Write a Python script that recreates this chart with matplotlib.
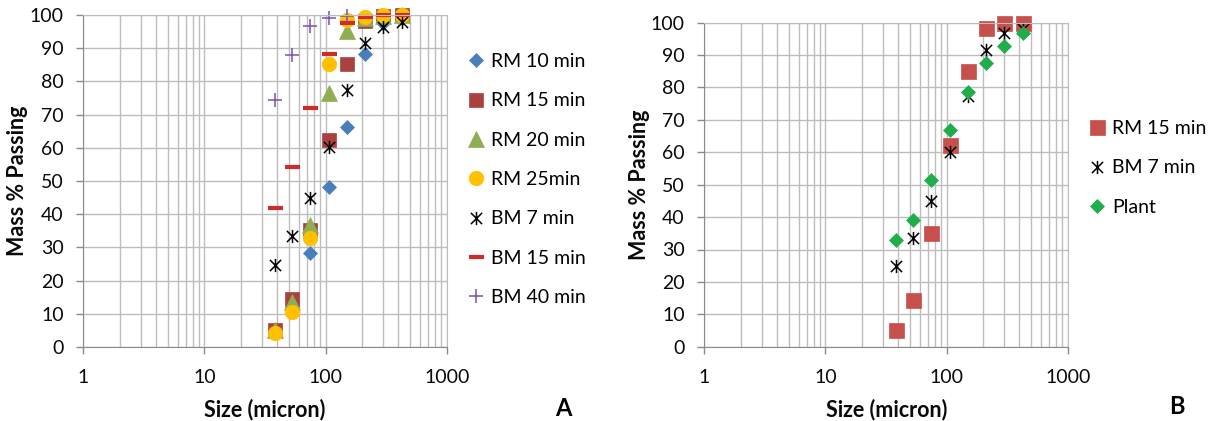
import numpy as np
import matplotlib
matplotlib.use('Agg')
import matplotlib.pyplot as plt
from matplotlib.path import Path
from matplotlib.ticker import LogLocator, FixedLocator, NullFormatter

plt.rcParams['font.family'] = ['Lato', 'DejaVu Sans']

# sieve sizes (micron)
size = [38, 53, 75, 106, 150, 212, 300, 425]

# panel A series (mass % passing)
rm10 = [5, 12, 28.3, 48.2, 66.2, 88.2, 97.5, 99]
rm15 = [5.2, 14.5, 35.2, 62.2, 85.1, 98.2, 99.8, 100]
rm20 = [5, 13.5, 36.8, 76.6, 95.3, 99, 99.8, 100]
rm25 = [4.1, 10.6, 32.7, 85.2, 98.5, 99.5, 100, 100]
bm7 = [24.7, 33.3, 44.9, 60.2, 77.3, 91.6, 96.5, 97.8]
bm15 = [41.8, 54.2, 72.1, 88.4, 97.7, 99.3, 100, 100]
bm40 = [74.3, 88.1, 96.8, 99.1, 99.7]

# panel B series
rm15_b = [5.2, 14.3, 35.2, 62.2, 85.1, 98.3, 99.8, 100]
bm7_b = [24.8, 33.5, 45.1, 60.2, 77.5, 91.7, 96.7, 98.2]
plant = [32.8, 39.2, 51.4, 66.8, 78.6, 87.5, 92.9, 96.7]

grid_c = '#bdbdbd'
spine_c = '#8a8a8a'

# excel style asterisk: X with a vertical bar
star = Path([(0, -1), (0, 1), (-0.85, -0.85), (0.85, 0.85), (-0.85, 0.85), (0.85, -0.85)],
            [Path.MOVETO, Path.LINETO, Path.MOVETO, Path.LINETO, Path.MOVETO, Path.LINETO])

fig = plt.figure(figsize=(12.12, 4.21), dpi=100)
W, H = 1212, 421

def make_axes(x0, x1, y0, y1):
    ax = fig.add_axes([x0 / W, 1 - y1 / H, (x1 - x0) / W, (y1 - y0) / H])
    ax.set_xscale('log')
    ax.set_xlim(1, 1000)
    ax.set_ylim(0, 100)
    ax.xaxis.set_major_locator(FixedLocator([1, 10, 100, 1000]))
    ax.xaxis.set_major_formatter(plt.FuncFormatter(lambda v, p: '%d' % v))
    ax.xaxis.set_minor_locator(LogLocator(base=10, subs=np.arange(2, 10)))
    ax.xaxis.set_minor_formatter(NullFormatter())
    ax.set_yticks(np.arange(0, 101, 10))
    ax.grid(True, which='both', axis='x', color=grid_c, lw=1)
    ax.grid(True, which='major', axis='y', color=grid_c, lw=1)
    ax.set_axisbelow(True)
    ax.tick_params(axis='x', which='major', direction='out', length=5, width=1,
                   color=spine_c, pad=11, labelsize=14, labelcolor='#0a0a0a')
    ax.tick_params(axis='x', which='minor', length=0)
    ax.tick_params(axis='y', direction='out', length=5, width=1, color=spine_c,
                   pad=9, labelsize=14, labelcolor='#0a0a0a')
    for s in ['left', 'bottom']:
        ax.spines[s].set_color(spine_c)
    for s in ['top', 'right']:
        ax.spines[s].set_color(grid_c)
    return ax

axA = make_axes(83.3, 446.7, 15, 347)
axB = make_axes(704.3, 1067.7, 22.7, 346.7)

kw = dict(ls='none', clip_on=False)
axA.plot(size, rm10, marker='D', ms=7.2, color='#4a7ebb', mec='#4a7ebb', mew=0.5, label='RM 10 min', **kw)
axA.plot(size, rm15, marker='s', ms=10.5, color='#a9423e', mec='#a9423e', mew=0.5, label='RM 15 min', **kw)
axA.plot(size, rm20, marker='^', ms=12, color='#8fae53', mec='#8fae53', mew=0.5, label='RM 20 min', **kw)
axA.plot(size, rm25, marker='o', ms=10.5, color='#ffc000', mec='#ffc000', mew=0.5, label='RM 25min', **kw)
axA.plot(size, bm7, marker=star, ms=9.5, color='black', mew=1.1, label='BM 7 min', **kw)
axA.plot(size, bm15, marker='_', ms=10.8, color='#d02b2b', mew=3, label='BM 15 min', **kw)
axA.plot(size[:len(bm40)], bm40, marker='+', ms=9.8, color='#7b52ab', mew=1.1, label='BM 40 min', **kw)

axB.plot(size, rm15_b, marker='s', ms=10.8, color='#c6504c', mec='#c6504c', mew=0.5, label='RM 15 min', **kw)
axB.plot(size, bm7_b, marker=star, ms=9.5, color='black', mew=1.1, label='BM 7 min', **kw)
axB.plot(size, plant, marker='D', ms=7.4, color='#1fae4b', mec='#1fae4b', mew=0.5, label='Plant', **kw)

legkw = dict(loc='upper left', frameon=False, fontsize=14, borderpad=0, handlelength=0.85,
             handletextpad=0.35, labelspacing=1.15, borderaxespad=0, numpoints=1)
axA.legend(bbox_to_anchor=(468 / W, 1 - 53 / H), bbox_transform=fig.transFigure, **legkw)
axB.legend(bbox_to_anchor=(1089 / W, 1 - 120 / H), bbox_transform=fig.transFigure, **legkw)

lab = dict(fontsize=15.5, fontweight='bold', ha='center', va='center', color='#0a0a0a')
fig.text(18 / W, 1 - 181 / H, 'Mass % Passing', rotation=90, **lab)
fig.text(640 / W, 1 - 185 / H, 'Mass % Passing', rotation=90, **lab)
fig.text(265 / W, 1 - 410 / H, 'Size (micron)', **lab)
fig.text(887 / W, 1 - 410 / H, 'Size (micron)', **lab)
fig.text(563 / W, 1 - 408 / H, 'A', fontsize=17, fontweight='bold', ha='center', va='center')
fig.text(1177 / W, 1 - 407 / H, 'B', fontsize=17, fontweight='bold', ha='center', va='center')

fig.savefig('out.png', dpi=100)
